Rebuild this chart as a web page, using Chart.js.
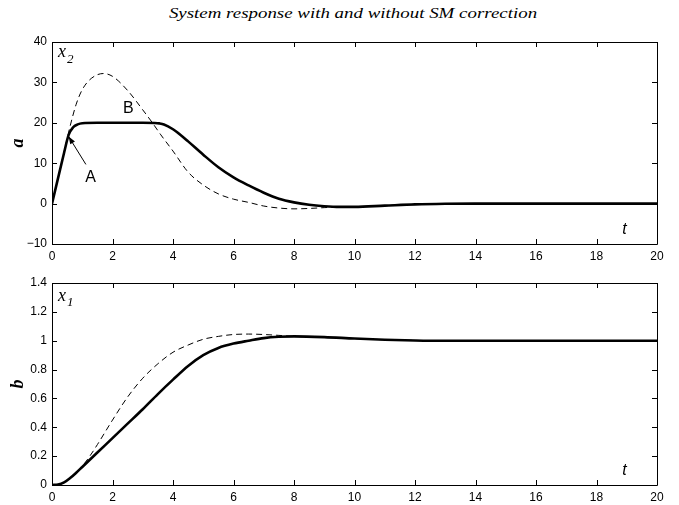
<!DOCTYPE html>
<html lang="en">
<head>
<meta charset="UTF-8">
<title>System response with and without SM correction</title>
<script src="https://cdn.jsdelivr.net/npm/chart.js@4.4.0/dist/chart.umd.min.js"></script>
<style>
    body { margin: 0; background: #fff; }
    #wrap { position: relative; width: 679px; height: 505px; overflow: hidden; }
    #wrap canvas { position: absolute; left: 0; }
    #title {
        position: absolute; top: 6px; left: 353px; white-space: nowrap;
        font-family: "Liberation Serif", serif; font-style: italic; font-size: 14px;
        transform: translateX(-50%) scaleX(1.35); color: #000;
    }
</style>
</head>
<body>
<div id="wrap">
    <div id="title">System response with and without SM correction</div>
    <canvas id="topChart" width="679" height="264" style="top:0"></canvas>
    <canvas id="bottomChart" width="679" height="241" style="top:264px"></canvas>
</div>
<script>
// upper plot, x2
var tTop = [0, 0.2, 0.4, 0.55, 0.7, 0.85, 1, 1.5, 2, 2.5, 3, 3.4, 3.55, 3.7, 4, 4.25, 4.5, 5, 5.5, 6, 6.5, 7, 7.5, 8, 8.5, 9, 9.5, 10, 11, 12, 13, 14, 16, 18, 20];
var x2Sm = [0, 6.3, 12.6, 17, 18.9, 19.6, 19.9, 20, 20, 20, 20, 19.95, 19.85, 19.6, 18.4, 17.0, 15.4, 12.1, 9.0, 6.5, 4.5, 2.7, 1.2, 0.3, -0.3, -0.65, -0.82, -0.8, -0.5, -0.2, -0.05, 0, 0, 0, 0];
var tTopDash = [0, 0.2, 0.4, 0.6, 0.8, 1, 1.3, 1.7, 2, 2.5, 3, 3.3, 3.6, 4, 4.5, 5, 5.5, 6, 6.5, 7, 7.5, 8, 8.5, 9, 9.5, 10, 11, 12, 13, 14, 16, 18, 20];
var x2NoSm = [0, 6.3, 12.8, 19.2, 24.6, 28.2, 31, 32.2, 31.5, 28, 23.2, 20.2, 17, 13, 7.8, 4.6, 2.4, 1.1, 0.3, -0.6, -1.1, -1.3, -1.2, -1.0, -0.85, -0.8, -0.5, -0.2, -0.05, 0, 0, 0, 0];

// lower plot, x1
var tBot = [0, 0.2, 0.4, 0.6, 0.8, 1, 1.5, 2, 2.5, 3, 3.5, 4, 4.5, 5, 5.5, 6, 6.5, 7, 7.5, 8, 9, 10, 11, 12, 13, 14, 16, 18, 20];
var x1Sm = [0, 0.003, 0.018, 0.048, 0.085, 0.125, 0.225, 0.325, 0.425, 0.525, 0.63, 0.73, 0.825, 0.9, 0.95, 0.98, 1.0, 1.018, 1.027, 1.03, 1.025, 1.015, 1.007, 1.002, 1, 1, 1, 1, 1];
var tBotDash = [0, 0.2, 0.4, 0.6, 0.8, 1, 1.25, 1.5, 2, 2.5, 3, 3.5, 4, 4.5, 5, 5.5, 6, 6.5, 7, 7.5, 8, 9, 10, 11, 12, 13, 14, 16, 18, 20];
var x1NoSm = [0, 0.003, 0.018, 0.048, 0.085, 0.13, 0.2, 0.28, 0.45, 0.61, 0.74, 0.84, 0.92, 0.97, 1.01, 1.03, 1.043, 1.046, 1.043, 1.037, 1.03, 1.025, 1.015, 1.007, 1.002, 1, 1, 1, 1, 1];

var xTicks = { min: 0, max: 20, step: 2 };
var topTicks = { min: -10, max: 40, step: 10 };
var botTicks = { min: 0, max: 1.4, step: 0.2 };

function pairs(ts, vs) {
    return ts.map(function (t, i) { return { x: t, y: vs[i] }; });
}

// matlab style box with inward ticks on all sides, plus text notes
var boxPlugin = {
    id: 'box',
    afterDatasetsDraw: function (chart, args, opts) {
        var ctx = chart.ctx, a = chart.chartArea;
        var xs = chart.scales.x, ys = chart.scales.y;
        ctx.save();
        ctx.strokeStyle = '#000';
        ctx.lineWidth = 1;
        ctx.beginPath();
        xs.ticks.forEach(function (t) {
            var px = Math.round(xs.getPixelForValue(t.value)) + 0.5;
            ctx.moveTo(px, a.bottom); ctx.lineTo(px, a.bottom - 5);
            ctx.moveTo(px, a.top); ctx.lineTo(px, a.top + 5);
        });
        ys.ticks.forEach(function (t) {
            var py = Math.round(ys.getPixelForValue(t.value)) + 0.5;
            ctx.moveTo(a.left, py); ctx.lineTo(a.left + 5, py);
            ctx.moveTo(a.right, py); ctx.lineTo(a.right - 5, py);
        });
        ctx.rect(Math.round(a.left) + 0.5, Math.round(a.top) + 0.5,
                 Math.round(a.right - a.left), Math.round(a.bottom - a.top));
        ctx.stroke();

        ctx.fillStyle = '#000';
        ctx.textBaseline = 'middle';
        (opts.notes || []).forEach(function (n) {
            var px = xs.getPixelForValue(n.x), py = ys.getPixelForValue(n.y);
            ctx.font = n.font;
            ctx.textAlign = 'left';
            ctx.fillText(n.text, px, py);
            if (n.sub) {
                var w = ctx.measureText(n.text).width;
                ctx.font = n.subFont;
                ctx.fillText(n.sub, px + w + 1, py + 7);
            }
        });
        (opts.arrows || []).forEach(function (ar) {
            var x0 = xs.getPixelForValue(ar.from[0]), y0 = ys.getPixelForValue(ar.from[1]);
            var x1 = xs.getPixelForValue(ar.to[0]), y1 = ys.getPixelForValue(ar.to[1]);
            var ang = Math.atan2(y1 - y0, x1 - x0);
            ctx.lineWidth = 1;
            ctx.beginPath();
            ctx.moveTo(x0, y0); ctx.lineTo(x1, y1);
            ctx.stroke();
            ctx.beginPath();
            ctx.moveTo(x1, y1);
            ctx.lineTo(x1 - 8 * Math.cos(ang - 0.35), y1 - 8 * Math.sin(ang - 0.35));
            ctx.lineTo(x1 - 8 * Math.cos(ang + 0.35), y1 - 8 * Math.sin(ang + 0.35));
            ctx.closePath();
            ctx.fill();
        });
        ctx.restore();
    }
};

var tickFont = { family: 'Liberation Sans', size: 12 };
var labelFont = { family: 'Liberation Serif', size: 18, style: 'italic', weight: 'bold' };

function makeChart(id, sets, yr, yName, padTop, notes, arrows) {
    return new Chart(document.getElementById(id), {
        type: 'line',
        data: {
            datasets: [
                {
                    data: sets[1], borderColor: '#000', borderWidth: 1,
                    borderDash: [6, 4], pointRadius: 0, cubicInterpolationMode: 'monotone'
                },
                {
                    data: sets[0], borderColor: '#000', borderWidth: 2.6,
                    pointRadius: 0, cubicInterpolationMode: 'monotone'
                }
            ]
        },
        options: {
            responsive: false,
            animation: false,
            layout: { padding: { top: padTop, left: 8, right: 22, bottom: 0 } },
            plugins: {
                legend: { display: false },
                tooltip: { enabled: false },
                box: { notes: notes, arrows: arrows }
            },
            scales: {
                x: {
                    type: 'linear', min: xTicks.min, max: xTicks.max,
                    grid: { display: false, drawTicks: false }, border: { display: false },
                    ticks: { stepSize: xTicks.step, color: '#000', font: tickFont, padding: 5, maxRotation: 0 },
                    afterFit: function (s) { s.height = 20; }
                },
                y: {
                    min: yr.min, max: yr.max,
                    grid: { display: false, drawTicks: false }, border: { display: false },
                    title: { display: true, text: yName, color: '#000', font: labelFont, padding: { top: 0, bottom: 0 } },
                    ticks: {
                        stepSize: yr.step, color: '#000', font: tickFont, padding: 5,
                        callback: function (v) {
                            var s = String(Math.round(v * 10) / 10);
                            return v < 0 ? '\u2212' + s.slice(1) : s;
                        }
                    },
                    afterFit: function (s) { s.width = 44; }
                }
            }
        },
        plugins: [boxPlugin]
    });
}

var serifNote = 'italic 18px "Liberation Serif"';
var subNote = 'italic 13px "Liberation Serif"';
var sansNote = '16px "Liberation Sans"';
var tNote = 'italic 16px "Liberation Sans"';

makeChart('topChart', [pairs(tTop, x2Sm), pairs(tTopDash, x2NoSm)], topTicks, 'a', 42, [
    { text: 'x', sub: '2', x: 0.2, y: 37.5, font: serifNote, subFont: subNote },
    { text: 'B', x: 2.35, y: 23.5, font: sansNote },
    { text: 'A', x: 1.1, y: 6.5, font: sansNote },
    { text: 't', x: 18.85, y: -6.5, font: tNote }
], [
    { from: [1.12, 9.7], to: [0.55, 16.6] }
]);

makeChart('bottomChart', [pairs(tBot, x1Sm), pairs(tBotDash, x1NoSm)], botTicks, 'b', 19, [
    { text: 'x', sub: '1', x: 0.2, y: 1.31, font: serifNote, subFont: subNote },
    { text: 't', x: 18.85, y: 0.1, font: tNote }
], []);
</script>
</body>
</html>
